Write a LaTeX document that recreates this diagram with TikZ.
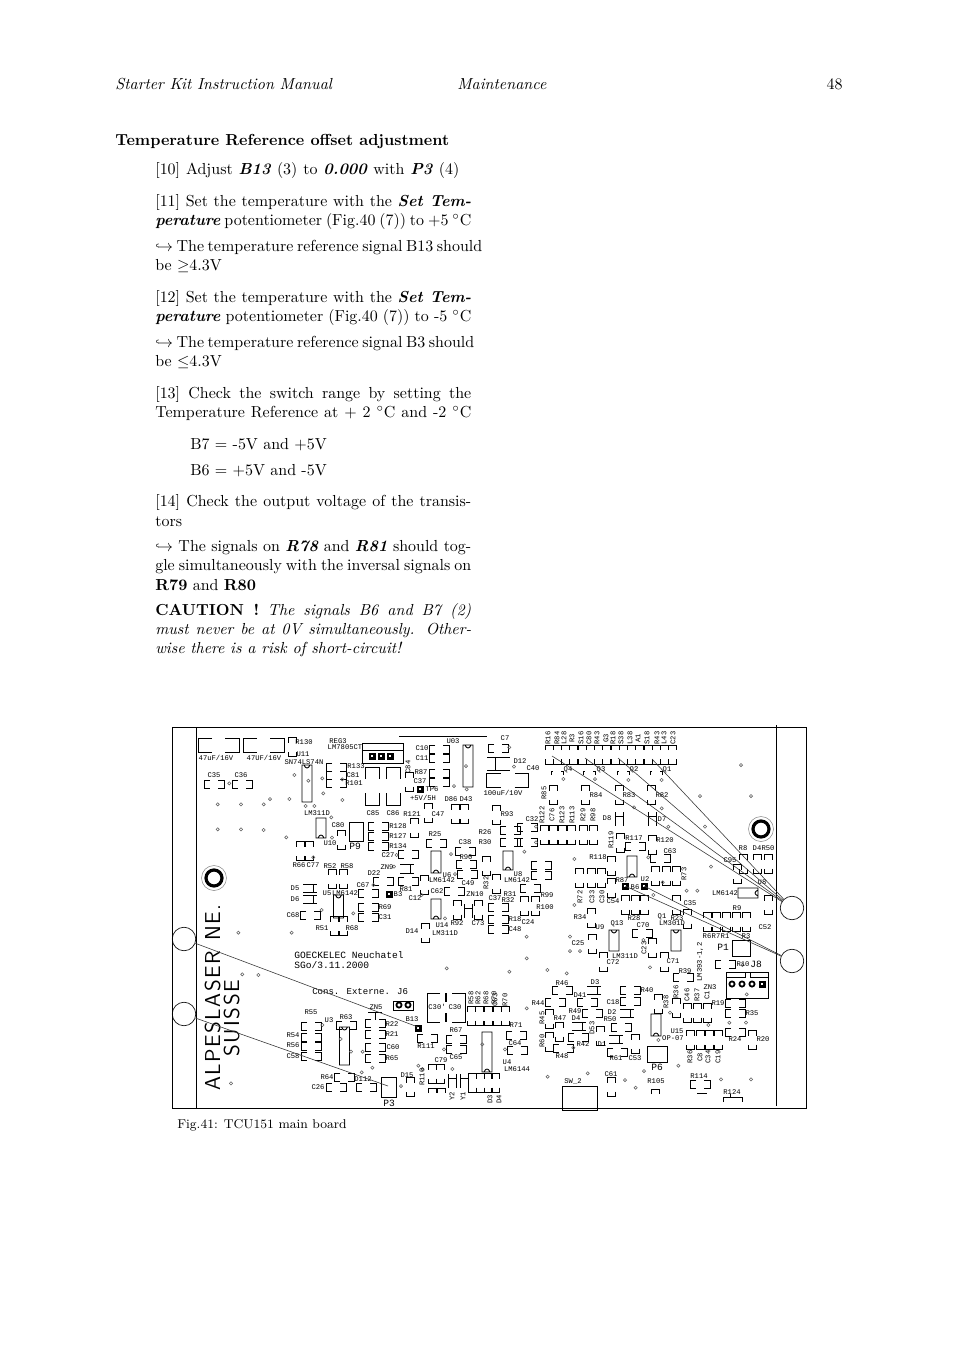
\documentclass[tikz,border=0pt]{standalone}
\usepackage{fontspec}
\newfontfamily\pcbfont{Liberation Mono}
\newcommand{\jline}[1]{\hbox to 197.8pt{#1}}
\newcommand{\hpad}[2]{\draw[pcb] (#1,#2) ++(-4,-4) -- ++(-6,0) -- ++(0,8) -- ++(6,0) ++(8,0) -- ++(6,0) -- ++(0,-8) -- ++(-6,0);}
\newcommand{\vpad}[2]{\draw[pcb] (#1,#2) ++(-4,-4.5) -- ++(0,-5) -- ++(8,0) -- ++(0,5) ++(0,9) -- ++(0,5) -- ++(-8,0) -- ++(0,-5);}
\newcommand{\padtop}[2]{\draw[pcb] (#1,#2) ++(-4,5) -- ++(0,-5) -- ++(8,0) -- ++(0,5);}
\newcommand{\wpad}[5]{\draw[pcb] (#1,#2) ++(-#3,-#5) -- ++(-#4,0) -- ++(0,#5*2) -- ++(#4,0) ++(#3*2,0) -- ++(#4,0) -- ++(0,-#5*2) -- ++(-#4,0);}
\newcommand{\tpad}[5]{\draw[pcb] (#1,#2) ++(-#3,-#5) -- ++(0,-#4) -- ++(#3*2,0) -- ++(0,#4) ++(0,#5*2) -- ++(0,#4) -- ++(-#3*2,0) -- ++(0,-#4);}
\newcommand{\icdn}[3]{\draw[pcb] (#1,#2) ++(-5,0) rectangle (#1+5,#3) (#1-3,#3) .. controls (#1-1.5,#3-4) and (#1+1.5,#3-4) .. (#1+3,#3);}
\newcommand{\icup}[3]{\draw[pcb] (#1,#2) ++(-5,0) rectangle (#1+5,#3) (#1-3,#2) .. controls (#1-1.5,#2+4) and (#1+1.5,#2+4) .. (#1+3,#2);}
\newcommand{\hdiode}[2]{\draw[pcb] (#1,#2) ++(-7,-4) -- ++(14,0) (#1,#2) ++(-7,4) -- ++(14,0) (#1,#2) ++(3,-4) -- ++(0,8);}
\newcommand{\vdiode}[2]{\draw[pcb] (#1,#2) ++(-4,-7) -- ++(0,14) (#1,#2) ++(4,-7) -- ++(0,14) (#1,#2) ++(-4,-3) -- ++(8,0);}
\newcommand{\testpad}[2]{\fill (#1,#2) ++(-3.5,-3.5) rectangle ++(7,7); \fill[white] (#1,#2) ++(-1.3,-1.3) rectangle ++(2.6,2.6);}
\newcommand{\ringpad}[2]{\draw[line width=1.1pt] (#1,#2) circle (2.6);}
\newcommand{\mounthole}[2]{\draw[line width=2pt] (#1,#2) circle (8); \draw[pcb,gray,line width=.3pt] (#1,#2) circle (12.5);}
\tikzset{
  pcb/.style={line width=.55pt, black},
  txt/.style={anchor=base west, inner sep=0pt},
  lbl/.style={inner sep=0pt, font=\pcbfont\fontsize{4.5}{5}\selectfont},
  lblr/.style={lbl, rotate=90},
  biglbl/.style={inner sep=0pt, font=\pcbfont\fontsize{6}{7}\selectfont},
  brand/.style={inner sep=0pt, rotate=90, anchor=base west, font=\sffamily\fontsize{13.5}{14}\selectfont},
  via/.style={gray!75!black, line width=.35pt},
  hole/.style={circle, draw, line width=.4pt, minimum size=23.5*.626pt, inner sep=0pt},
  lead/.style={line width=.35pt, black!80},
}
\begin{document}
\begin{tikzpicture}[x=0.626pt, y=-0.626pt]
    \useasboundingbox[fill=white] (0,0) rectangle (954,1351);

    % page text
    \node[txt] (head1) at (115,89) {\textit{Starter Kit Instruction Manual}};
    \node[txt] (head2) at (457,89) {\textit{Maintenance}};
    \node[anchor=base east, inner sep=0pt] (head3) at (843,89) {48};
    \node[txt] (title) at (115,145) {\textbf{Temperature Reference offset adjustment}};
    \node[txt] (s10) at (155,174) {\hbox to 190.3pt{[10] Adjust \textbf{\textit{B13}} (3) to \textbf{\textit{0.000}} with \textbf{\textit{P3}} (4)}};
    \node[txt] (s11a) at (155,206) {\jline{[11] Set the temperature with the \textbf{\textit{Set Tem-}}}};
    \node[txt] (s11b) at (155,225) {\jline{\textbf{\textit{perature}} potentiometer (Fig.40 (7)) to +5 $^\circ$C}};
    \node[txt] (r11a) at (155,251) {\hbox to 204.7pt{$\hookrightarrow$ The temperature reference signal B13 should}};
    \node[txt] (r11b) at (155,270) {be $\geq$4.3V};
    \node[txt] (s12a) at (155,302) {\jline{[12] Set the temperature with the \textbf{\textit{Set Tem-}}}};
    \node[txt] (s12b) at (155,321) {\jline{\textbf{\textit{perature}} potentiometer (Fig.40 (7)) to -5 $^\circ$C}};
    \node[txt] (r12a) at (155,347) {\hbox to 199.7pt{$\hookrightarrow$ The temperature reference signal B3 should}};
    \node[txt] (r12b) at (155,366) {be $\leq$4.3V};
    \node[txt] (s13a) at (155,398) {\jline{[13] Check the switch range by setting the}};
    \node[txt] (s13b) at (155,417) {\jline{Temperature Reference at + 2 $^\circ$C and -2 $^\circ$C}};
    \node[txt] (b7) at (190,449) {B7 = -5V and +5V};
    \node[txt] (b6) at (190,475) {B6 = +5V and -5V};
    \node[txt] (s14a) at (155,506) {\jline{[14] Check the output voltage of the transis-}};
    \node[txt] (s14b) at (155,526) {tors};
    \node[txt] (r14a) at (155,551) {\jline{$\hookrightarrow$ The signals on \textbf{\textit{R78}} and \textbf{\textit{R81}} should tog-}};
    \node[txt] (r14b) at (155,570) {\jline{gle simultaneously with the inversal signals on}};
    \node[txt] (r14c) at (155,590) {\textbf{R79} and \textbf{R80}};
    \node[txt] (caut1) at (155,615) {\jline{\textbf{CAUTION !} \textit{The signals B6 and B7 (2)}}};
    \node[txt] (caut2) at (155,634) {\jline{\textit{must never be at 0V simultaneously. Other-}}};
    \node[txt] (caut3) at (155,653) {\textit{wise there is a risk of short-circuit!}};
    \node[txt, font=\fontsize{8}{9.5}\selectfont] (figcap) at (177,1128) {Fig.41: TCU151 main board};

    % board outline
    \draw[pcb, line width=.6pt] (172,727) rectangle (806,1108);
    \draw[pcb, line width=.6pt] (196,727) -- (196,1108);
    \draw[pcb, line width=.6pt] (776,725) -- (776,1106);
    \draw[pcb] (399,736) -- (487,736);

    % engraved text
    \node[brand] (brand1) at (220,1091) {\hbox to 116.4pt{A\hfil L\hfil P\hfil E\hfil S\hfil L\hfil A\hfil S\hfil E\hfil R\hfil\ \hfil N\hfil E\hfil .}};
    \node[brand] (brand2) at (239,1057) {\hbox to 48.2pt{S\hfil U\hfil I\hfil S\hfil S\hfil E}};
    \node[biglbl, anchor=west] (maker1) at (294,955) {GOECKELEC Neuchatel};
    \node[biglbl, anchor=west] (maker2) at (294,965) {SGo/3.11.2000};
    \node[biglbl, anchor=west, font=\pcbfont\fontsize{5.65}{7}\selectfont] (cons) at (312,992) {Cons. Externe. J6};

    % mounting holes and probe circles
    \mounthole{214}{878}
    \mounthole{761}{829}
    \node[hole] (hL1) at (184,939) {};
    \node[hole] (hL2) at (184,1014) {};
    \node[hole] (hR1) at (792,908) {};
    \node[hole] (hR2) at (792,961) {};

    % resistors and capacitors, horizontal
    \foreach \x/\y in {214/784,242/784,336/767,336/775,336/783,439/749,439/758,439/773,439/782,
        378/826,378/836,378/846,408/854,436/843,465/851,466/864,467/874,383/881,408/881,368/893,
        454/891,310/915,368/907,368/917,527/827,527/842,510/830,510/842,498/748,635/846,660/858,
        541/865,541/875,530/888,498/907,498/919,498/929,642/933,683/977,630/990,630/1001,621/1027,
        587/1002,562/990,555/1002,592/1013,578/1037,563/1048,617/1052,735/1003,735/1013,735/1032,
        725/964,700/1084,516/1035,517/1050,427/1038,375/1023,375/1034,375/1047,375/1058,
        311/1026,311/1037,311/1046,311/1056,346/1025,344/1077,336/1087,366/1087,456/1039,456/1049}
        {\hpad{\x}{\y}}

    % resistors and capacitors, vertical
    \foreach \x/\y in {292/747,409/782,341/840,414/828,428/813,455/814,464/814,300/851,309/851,
        332/879,343/879,424/885,334/926,343/926,496/815,486/866,496/884,553/795,585/795,619/795,651/795,
        544/835,553/835,562/835,571/835,583/835,593/835,620/843,652/845,611/866,579/878,591/878,601/878,
        611/888,655/876,666/876,676/876,625/905,635/905,644/905,676/905,687/919,524/906,535/906,
        737/874,743/864,757/864,768/864,768/905,707/922,716/922,726/922,736/922,746/922,
        591/918,603/962,592/944,652/948,664/962,658/1004,676/1008,687/1013,697/1013,707/1013,
        549/1019,559/1032,549/1042,600/1036,635/1044,690/1040,700/1040,709/1040,718/1040,752/1040,
        611/1087,497/1016,505/1016,432/1074,440/1074,472/1083,480/1083,488/1083,495/1083,425/933,
        457/910,478/910,410/1087,471/1016,479/1016,488/1016}
        {\vpad{\x}{\y}}
    \foreach \i in {0,...,15} {\vpad{549+8.25*\i}{754.5}}
    \padtop{432}{1088}
    \padtop{441}{1088}
    \padtop{655}{1089}

    % large capacitors
    \wpad{218.5}{745}{6.5}{14}{7}
    \wpad{263.5}{745}{6.5}{14}{7}
    \wpad{507.5}{780}{7}{14}{7}
    \tpad{372}{786}{7}{12}{7}
    \tpad{393}{786}{7}{12}{7}
    \wpad{446}{1007.5}{6}{13}{14.5}
    \draw[pcb, line width=1pt] (446,993) -- (446,1002) (446,1013) -- (446,1022);

    % diodes
    \foreach \x/\y in {310/888,310/899,594/990,627/1013,579/1026,616/1039}
        {\hdiode{\x}{\y}}
    \foreach \x/\y in {619/819,652/819,468/911,452/1081,464/1081}
        {\vdiode{\x}{\y}}
    \draw[pcb] (487,757) -- (510,757) (487,770) -- (510,770) (495,757) -- (495,770);
    \draw[pcb] (400,864) -- (414,864) (400,873) -- (414,873) (410,864) -- (410,873);
    \draw[pcb] (368,1012) -- (382,1012) (375,1012) -- (375,1020);
    \draw[pcb] (697,1093) -- (707,1093);
    \draw[pcb] (723,1102) -- (723,1097) -- (742,1097) -- (742,1102) (730,1097) -- (730,1094);

    % integrated circuits
    \icup{307}{765}{802}
    \icup{468}{745}{787}
    \icdn{321}{818}{838}
    \icdn{436}{851}{873}
    \icdn{436}{899}{919}
    \icdn{508}{851}{870}
    \icup{338.5}{895}{918}
    \icup{344.5}{1027}{1065}
    \icdn{487}{1032}{1072}
    \icdn{632}{856}{877}
    \icup{614}{930}{951}
    \icup{676}{930}{951}
    \icdn{656}{1014}{1036}
    \draw[pcb] (738,888) rectangle (758,898) (758,890) .. controls (754,892) and (754,894) .. (758,896);

    % transistor marks
    \foreach \x in {557,589,623,656} {
        \draw[pcb] (\x-6,775) -- (\x-6,771) -- (\x-4,771) (\x+6,775) -- (\x+6,771) -- (\x+4,771);
    }

    % connectors and boxes
    \draw[pcb] (362,743) rectangle (403,763) (362,750) -- (403,750);
    \foreach \x in {372,381,390} {\testpad{\x}{756}}
    \foreach \x/\y in {420/789,389/894,625/886,644/886,418/1028} {\testpad{\x}{\y}}
    \draw[pcb] (349,822) rectangle (363,841);
    \draw[pcb] (732,940) rectangle (750,956);
    \draw[pcb] (647,1046) rectangle (667,1062);
    \draw[pcb] (381,1077) rectangle (396,1097);
    \draw[pcb] (562,1086) rectangle (597,1110);
    \draw[pcb] (393,1001) rectangle (413,1010);
    \ringpad{399}{1005}
    \ringpad{408}{1005}
    \draw[pcb, line width=.6pt] (726,972) rectangle (768,998) (726,977) -- (745,977) -- (745,972) (750,972) -- (750,977) -- (768,977);
    \foreach \x in {732,742,752} {\ringpad{\x}{984}}
    \testpad{762}{984}

    % vias
    \foreach \x/\y in {143/253,213/253,281/253,300/237,358/237,373/165,415/182,457/175,460/220,517/240,517/178,
        407/258,433/258,143/328,213/328,281/330,349/352,484/292,486/353,852/198,890/208,888/138,843/402,
        855/462,825/595,550/580,455/570,680/405,672/440,610/495,755/525,430/412,178/190}
        {\draw[via] ({170+\x/3},{720+\y/3}) circle (1.6);}
    \foreach \x/\y in {58/82,72/140,220/177,315/177,415/180,515/180,753/135,630/228,783/228,432/262,515/265,
        645/320,535/320,253/417,475/412,663/440,518/487,590/512,622/512,253/555,490/525,138/320,138/367,103/395}
        {\draw[via] ({490+\x/3},{720+\y/3}) circle (1.6);}
    \foreach \x/\y in {205/53,365/53,217/178,265/180,830/160,457/330,512/372,543/410,578/410,575/472,607/458,
        693/513,745/452,757/462,847/462,822/403,937/388,183/505}
        {\draw[via] ({170+\x/3},{915+\y/3}) circle (1.6);}
    \foreach \x/\y in {110/65,110/130,58/170,172/165,230/175,240/65,240/108,270/108,460/75,480/157,110/280,
        540/293,718/323,768/323,655/330,505/375,250/398,45/403,293/475,173/485,405/495,437/518,462/468,
        565/452,693/493,783/493,770/238,757/150}
        {\draw[via] ({490+\x/3},{915+\y/3}) circle (1.6);}

    % small labels
    \foreach \x/\y/\t in {304/742/R130,303/754/U11,304/762/SN74LS74N,338/741/REG3,345/747/LM7805CT,
        214/775/C35,241/775/C36,453/741/U03,422/748/C10,422/758/C11,421/772/R87,420/781/C37,
        356/766/R133,353/775/C81,354/783/R101,432/789/TP6,373/813/C85,393/813/C86,317/813/LM311D,
        338/825/C80,330/843/U10,398/826/R128,398/836/R127,398/846/R134,388/855/C27,412/814/R121,
        438/814/C47,451/799/D86,466/799/D43,435/834/R25,465/842/C38,466/857/R90,387/867/ZN9,
        374/873/D22,406/889/R81,415/898/C12,363/885/C67,398/894/B3,437/891/C62,299/865/R66,313/865/C77,
        330/866/R52,347/866/R58,327/893/U5,345/893/LM6142,295/888/D5,295/899/D6,293/915/C68,
        385/907/R69,385/917/C31,322/928/R51,352/928/R68,442/880/LM6142,447/875/U6,468/883/C49,
        475/894/ZN10,495/898/C37,510/894/R31,508/900/R32,517/880/LM6142,518/874/U8,547/895/R99,
        545/907/R100,515/919/R18,528/922/C24,515/929/C48,412/931/D14,442/925/U14,445/933/LM311D,
        457/923/R92,478/923/C73,485/832/R26,485/842/R30,505/738/C7,520/761/D12,533/768/C40,
        507/814/R93,532/819/C32,568/770/Q4,601/770/Q3,634/770/Q2,667/770/Q1,596/795/R84,629/795/R83,
        662/795/R82,607/818/D8,662/819/D7,634/838/R117,665/840/R120,670/851/C63,598/857/R118,
        622/880/R87,635/887/B6,645/879/U2,613/901/C54,690/903/C35,725/893/LM6142,730/860/C95,
        743/848/R8,757/848/D4,768/848/R50,762/882/U8,765/927/C52,737/908/R9,707/936/R6,716/936/R7,
        725/936/R1,746/936/R3,743/964/R10,685/971/R39,710/987/ZN3,647/990/R40,613/1002/C18,
        612/1012/D2,610/1019/R50,595/982/D3,580/995/D41,562/983/R46,538/1003/R44,560/1018/R47,
        575/1011/R49,576/1018/D4,583/1044/R42,562/1056/R48,602/1044/D1,616/1058/R61,635/1058/C53,
        718/1003/R19,752/1013/R35,677/1031/U15,673/1038/OP-07,735/1039/R24,763/1039/R20,699/1076/R114,
        732/1092/R124,656/1081/R105,611/1074/C61,573/1081/SW\_2,507/1062/U4,517/1069/LM6144,
        516/1025/R71,515/1043/C64,580/917/R34,600/927/U9,617/924/Q13,634/918/R28,643/925/C70,
        625/956/LM311D,613/962/C72,578/943/C25,662/917/Q1,677/918/R23,672/923/LM301D,673/961/C71,
        412/1019/B13,426/1046/R111,376/1007/ZN5,392/1024/R22,392/1034/R21,393/1047/C60,392/1058/R65,
        311/1012/R55,293/1035/R54,293/1045/R56,293/1056/C58,329/1020/U3,346/1017/R63,327/1077/R64,
        363/1079/D112,318/1087/C26,407/1075/D15,441/1060/C79,455/1007/C30,456/1030/R67,456/1057/C65}
        {\node[lbl] (l\x-\y) at (\x,\y) {\t};}
    \node[lbl] (cap1) at (216,758) {47uF/16V};
    \node[lbl] (cap2) at (264,758) {47UF/16V};
    \node[lbl] (cap3) at (503,793) {100uF/10V};
    \node[lbl] (tp6v) at (423,798) {+5V/5H};
    \node[lbl] (c30b) at (437,1007) {C30'};

    % rotated labels
    \foreach \x/\y/\t in {548/738/R16,557/738/R84,564/738/L28,572/738/R3,581/738/S16,589/738/C80,
        597/738/R43,606/738/G3,613/738/R18,621/738/S38,630/738/L38,638/738/A1,647/738/S18,657/738/R43,
        664/738/L43,673/738/C23,408/767/C84,544/793/R85,542/815/R122,552/815/C76,562/815/R123,
        572/815/R113,583/815/R29,593/815/R98,611/840/R119,486/883/R32,580/897/R72,592/897/C33,
        602/897/C30,684/874/R73,644/948/C23,666/1002/R38,676/992/R36,687/995/C46,697/995/R37,707/995/C1,
        542/1018/R45,592/1028/D53,542/1041/R60,690/1057/R36,700/1057/C8,708/1057/C34,718/1057/C19,
        495/1000/C63,505/1000/R70,471/998/R58,478/998/R62,486/998/R68,494/998/R70,
        422/1077/R110,452/1096/Y2,463/1096/Y1,490/1099/D3,499/1099/D4}
        {\node[lblr] (r\x-\y) at (\x,\y) {\t};}
    \node[lblr] (lm358) at (700,962) {LM393-1,2};

    % big labels
    \foreach \x/\y/\t in {355/846/P9,723/947/P1,756/964/J8,657/1067/P6,389/1103/P3}
        {\node[biglbl] (b\t) at (\x,\y) {\t};}

    % probe leaders
    \coordinate (tQ4) at (552,756);
    \coordinate (tQ3) at (585,758);
    \coordinate (tQ2) at (618,758);
    \coordinate (tQ1) at (652,759);
    \coordinate (tB7) at (625,886);
    \coordinate (tU2) at (644,886);
    \coordinate (tB13) at (418,1027);
    \coordinate (tP3) at (388,1086);
    \foreach \t in {tQ4,tQ3,tQ2,tQ1} {\draw[lead] (hR1) -- (\t);}
    \foreach \t in {tB7,tU2} {\draw[lead] (hR2) -- (\t);}
    \draw[lead] (hL1) -- (tB13);
    \draw[lead] (hL2) -- (tP3);
\end{tikzpicture}
\end{document}
